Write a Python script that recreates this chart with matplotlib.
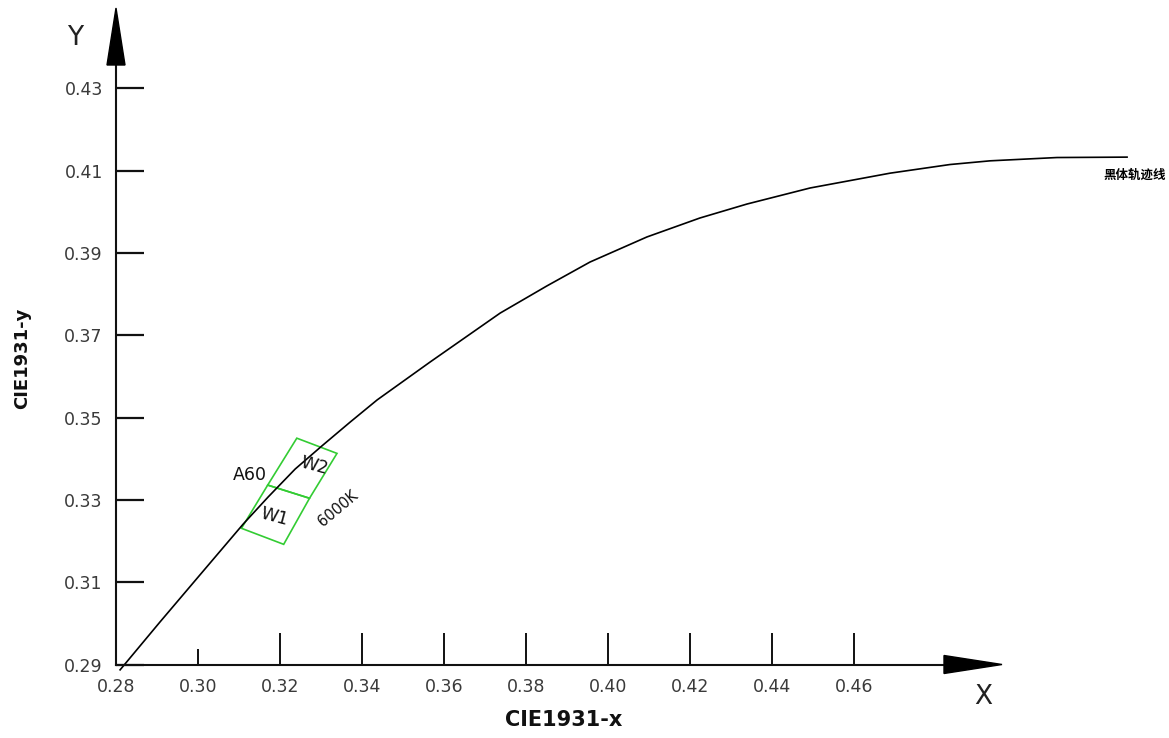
import matplotlib.pyplot as plt
from matplotlib.patches import Polygon

W, H = 1169, 738

# blackbody locus
locus_x = [0.2810, 0.2907, 0.3005, 0.3110, 0.3171, 0.3237, 0.3302, 0.3371,
           0.3437, 0.3566, 0.3737, 0.3851, 0.3956, 0.4095, 0.4224, 0.4339,
           0.4493, 0.4688, 0.4834, 0.4932, 0.5095, 0.5266]
locus_y = [0.2887, 0.3003, 0.3118, 0.3241, 0.3307, 0.3375, 0.3431, 0.3489,
           0.3543, 0.3635, 0.3754, 0.3820, 0.3878, 0.3939, 0.3985, 0.4019,
           0.4058, 0.4094, 0.4115, 0.4124, 0.4132, 0.4133]

# colour bins (corner points)
w1_x = [0.3170, 0.3272, 0.3209, 0.3106]
w1_y = [0.3336, 0.3304, 0.3192, 0.3231]
w2_x = [0.3241, 0.3339, 0.3272, 0.3170]
w2_y = [0.3450, 0.3413, 0.3304, 0.3336]

x_ticks = [0.28, 0.30, 0.32, 0.34, 0.36, 0.38, 0.40, 0.42, 0.44, 0.46]
y_ticks = [0.29, 0.31, 0.33, 0.35, 0.37, 0.39, 0.41, 0.43]
x_tick_labels = ["0.28", "0.30", "0.32", "0.34", "0.36", "0.38", "0.40", "0.42", "0.44", "0.46"]
y_tick_labels = ["0.29", "0.31", "0.33", "0.35", "0.37", "0.39", "0.41", "0.43"]


def px(x, y):
    # pixel position (from top-left) -> figure fraction
    return x / W, 1 - y / H


fig = plt.figure(figsize=(W / 100, H / 100), dpi=100)
fig.patch.set_facecolor("white")

# axes box: y axis at x=116px, x axis at y=664.5px
left, bottom = px(116, 664.5)
right, top = px(944, 65)
ax = fig.add_axes([left, bottom, right - left, top - bottom])
ax.set_xlim(0.28, 0.28 + (944 - 116) / 4100)
ax.set_ylim(0.29, 0.29 + (664.5 - 65) / 4115)

for s in ["top", "right"]:
    ax.spines[s].set_visible(False)
for s in ["left", "bottom"]:
    ax.spines[s].set_linewidth(1.5)
    ax.spines[s].set_color("#111111")

ax.set_xticks(x_ticks, labels=x_tick_labels)
ax.set_yticks(y_ticks, labels=y_tick_labels)
ax.tick_params(axis="x", direction="in", length=23, width=1.4, pad=10,
               labelsize=12.5, labelcolor="#3a3a3a", color="#111111")
ax.tick_params(axis="y", direction="in", length=20, width=1.6, pad=9.5,
               labelsize=12.5, labelcolor="#3a3a3a", color="#111111")
# the 0.30 tick is drawn shorter
ax.xaxis.get_major_ticks()[1].tick1line.set_markersize(11.5)

# locus
ax.plot(locus_x, locus_y, color="black", lw=1.2, clip_on=False)

# bins
ax.add_patch(Polygon(list(zip(w1_x, w1_y)), closed=True, fill=False,
                     edgecolor="#33cc33", lw=1.2, clip_on=False))
ax.add_patch(Polygon(list(zip(w2_x, w2_y)), closed=True, fill=False,
                     edgecolor="#33cc33", lw=1.2, clip_on=False))

ax.text(0.3126, 0.3360, "A60", fontsize=12.5, ha="center", va="center", color="#111111")
ax.text(0.3284, 0.3384, "W2", fontsize=12.5, ha="center", va="center",
        rotation=-15, color="#111111")
ax.text(0.3185, 0.3258, "W1", fontsize=12.5, ha="center", va="center",
        rotation=-15, color="#111111")
ax.text(0.3341, 0.3280, "6000K", fontsize=10.5, ha="center", va="center",
        rotation=40, color="#111111")
ax.text(0.5285, 0.4090, "黑体轨迹线", fontsize=9, fontweight="bold",
        family=["Noto Sans CJK SC", "DejaVu Sans"], ha="center", va="center")

# axis arrows
fig.add_artist(Polygon([px(944, 655.5), px(1002, 664.5), px(944, 673.5)],
                       closed=True, facecolor="black", edgecolor="black",
                       transform=fig.transFigure))
fig.add_artist(Polygon([px(107, 65), px(116, 8), px(125, 65)],
                       closed=True, facecolor="black", edgecolor="black",
                       transform=fig.transFigure))

fig.text(*px(75, 38), "Y", fontsize=19, ha="center", va="center", color="#222222")
fig.text(*px(983, 697), "X", fontsize=19, ha="center", va="center", color="#222222")
fig.text(*px(564, 720), "CIE1931-x", fontsize=15, fontweight="bold",
         ha="center", va="center", color="#111111")
fig.text(*px(22, 358), "CIE1931-y", fontsize=13, fontweight="bold",
         ha="center", va="center", rotation=90, color="#111111")

fig.savefig("out.png", dpi=100, facecolor="white")
